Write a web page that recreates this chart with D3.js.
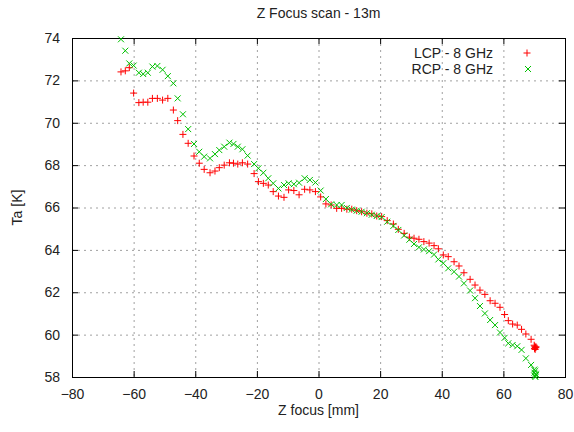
<!DOCTYPE html>
<html>
<head>
<meta charset="UTF-8">
<style>
body { margin: 0; background: #fff; }
text { font-family: "Liberation Sans", Arial, sans-serif; font-size: 14px; fill: #222; }
</style>
</head>
<body>
<svg id="chart"></svg>
<script src="https://d3js.org/d3.v7.min.js"></script>
<script>

// z focus positions (mm), shared by both polarisations
let zPos = [-64.1, -62.7, -61.4, -60.0, -58.3, -56.9, -55.4, -53.9, -52.3, -50.6,
  -48.9, -47.1, -45.7, -44.0, -42.3, -40.4, -38.7, -37.1, -35.2, -33.6,
  -32.2, -30.6, -28.9, -27.6, -26.2, -24.7, -23.0, -20.9, -19.5, -17.9,
  -16.3, -14.7, -13.0, -11.2, -9.7, -8.0, -6.3, -4.5, -2.8, -1.0,
  0.7, 2.4, 4.1, 5.9, 7.5, 9.2, 10.8, 12.4, 14.0, 15.7,
  17.3, 18.9, 20.5, 22.3, 24.3, 25.9, 27.8, 29.5, 31.0, 32.6,
  34.2, 35.9, 37.5, 38.9, 40.5, 42.1, 44.0, 45.6, 47.2, 49.2,
  50.8, 52.4, 54.0, 55.7, 57.3, 58.9, 60.4, 61.6, 63.0, 64.5,
  65.9, 67.3, 69.0, 70.0, 70.1, 70.2, 70.3, 70.4, 70.5, 70.6];

let lcp = [72.4, 72.45, 72.6, 71.4, 70.95, 70.97, 70.97, 71.15, 71.15, 71.07,
  71.15, 70.6, 70.1, 69.45, 69.03, 68.43, 68.09, 67.8, 67.64, 67.72,
  67.88, 68.0, 68.11, 68.09, 68.05, 68.11, 68.05, 67.6, 67.22, 67.14,
  67.06, 66.75, 66.54, 66.48, 66.83, 66.8, 66.6, 66.86, 66.83, 66.75,
  66.5, 66.17, 66.12, 65.96, 65.96, 65.92, 65.92, 65.85, 65.8, 65.73,
  65.7, 65.6, 65.57, 65.38, 65.22, 64.97, 64.78, 64.6, 64.55, 64.5,
  64.39, 64.32, 64.2, 64.05, 63.76, 63.68, 63.44, 63.24, 62.92, 62.61,
  62.34, 62.1, 61.9, 61.6, 61.48, 61.29, 60.95, 60.66, 60.5, 60.45,
  60.25, 60.03, 59.78, 59.5, 59.35, 59.45, 59.3, 59.4, 59.38, 59.42];

let rcp = [73.94, 73.4, 72.8, 72.7, 72.36, 72.3, 72.36, 72.65, 72.68, 72.5,
  72.2, 71.86, 71.15, 70.4, 69.7, 69.0, 68.63, 68.4, 68.32, 68.52,
  68.71, 68.87, 69.06, 69.0, 68.87, 68.75, 68.45, 68.05, 67.85, 67.64,
  67.38, 67.14, 66.9, 67.06, 67.14, 67.1, 67.17, 67.38, 67.3, 67.18,
  66.8, 66.4, 66.15, 66.12, 66.12, 65.98, 65.9, 65.85, 65.8, 65.73,
  65.66, 65.6, 65.55, 65.33, 65.13, 64.94, 64.68, 64.48, 64.28, 64.12,
  64.02, 63.94, 63.78, 63.55, 63.37, 63.13, 62.97, 62.74, 62.42, 62.08,
  61.72, 61.35, 61.0, 60.69, 60.45, 60.1, 59.85, 59.59, 59.51, 59.45,
  59.28, 58.88, 58.57, 58.35, 58.2, 58.05, 58.3, 58.0, 58.15, 58.1];

let xTicks = [-80, -60, -40, -20, 0, 20, 40, 60, 80];
let yTicks = [58, 60, 62, 64, 66, 68, 70, 72, 74];
let seriesNames = ["LCP - 8 GHz", "RCP - 8 GHz"];

let width = 574, height = 432;
let margin = {top: 38, right: 9, bottom: 55, left: 72};

let svg = d3.select("#chart")
    .attr("width", width)
    .attr("height", height);

let x = d3.scaleLinear().domain([-80, 80]).range([margin.left, width - margin.right]);
let y = d3.scaleLinear().domain([58, 74]).range([height - margin.bottom, margin.top]);

let plus = "M-3.5,0H3.5M0,-3.5V3.5";
let cross = "M-3,-3L3,3M-3,3L3,-3";

// grid (dotted)
let grid = svg.append("g").attr("stroke", "#a0a0a0").attr("stroke-dasharray", "2,4");
grid.selectAll(".vg")
    .data(xTicks.slice(1, -1))
    .enter().append("line")
    .attr("x1", d => x(d) + 0.5).attr("x2", d => x(d) + 0.5)
    .attr("y1", y(74)).attr("y2", y(58));
grid.selectAll(".hg")
    .data(yTicks.slice(1, -1))
    .enter().append("line")
    .attr("y1", d => y(d) + 0.5).attr("y2", d => y(d) + 0.5)
    .attr("x1", x(-80)).attr("x2", x(80));

// axes, ticks inward and mirrored
let tl = 6;
let axB = svg.append("g").attr("transform", `translate(0,${y(58)})`)
    .call(d3.axisBottom(x).tickValues(xTicks).tickSizeInner(-tl).tickSizeOuter(0).tickPadding(12));
let axT = svg.append("g").attr("transform", `translate(0,${y(74)})`)
    .call(d3.axisTop(x).tickValues(xTicks).tickSizeInner(-tl).tickSizeOuter(0).tickFormat(""));
let axL = svg.append("g").attr("transform", `translate(${x(-80)},0)`)
    .call(d3.axisLeft(y).tickValues(yTicks).tickSizeInner(-tl).tickSizeOuter(0).tickPadding(12));
let axR = svg.append("g").attr("transform", `translate(${x(80)},0)`)
    .call(d3.axisRight(y).tickValues(yTicks).tickSizeInner(-tl).tickSizeOuter(0).tickFormat(""));

svg.selectAll(".domain").remove();
svg.selectAll(".tick line").attr("stroke", "#000");
svg.selectAll(".tick text").attr("font-size", 14).attr("font-family", null).attr("fill", "#222");

svg.append("rect")
    .attr("x", x(-80) + 0.5).attr("y", y(74) + 0.5)
    .attr("width", x(80) - x(-80)).attr("height", y(58) - y(74))
    .attr("fill", "none").attr("stroke", "#000");

// data points
svg.append("g").selectAll("path")
    .data(zPos.map((z, i) => [z, lcp[i]]))
    .enter().append("path")
    .attr("d", plus)
    .attr("transform", d => `translate(${x(d[0])},${y(d[1])})`)
    .attr("stroke", "#ff0000").attr("fill", "none");

svg.append("g").selectAll("path")
    .data(zPos.map((z, i) => [z, rcp[i]]))
    .enter().append("path")
    .attr("d", cross)
    .attr("transform", d => `translate(${x(d[0])},${y(d[1])})`)
    .attr("stroke", "#00c000").attr("fill", "none");

// legend
let legend = svg.append("g");
legend.selectAll("text")
    .data(seriesNames)
    .enter().append("text")
    .attr("x", 493)
    .attr("y", (d, i) => 58 + i * 16)
    .attr("text-anchor", "end")
    .text(d => d);
legend.append("path").attr("d", plus).attr("transform", "translate(527,53)")
    .attr("stroke", "#ff0000").attr("fill", "none");
legend.append("path").attr("d", cross).attr("transform", "translate(528,69)")
    .attr("stroke", "#00c000").attr("fill", "none");

// titles
svg.append("text")
    .attr("x", (x(-80) + x(80)) / 2).attr("y", 18)
    .attr("text-anchor", "middle")
    .text("Z Focus scan - 13m");
svg.append("text")
    .attr("x", (x(-80) + x(80)) / 2).attr("y", 415)
    .attr("text-anchor", "middle")
    .text("Z focus [mm]");
svg.append("text")
    .attr("transform", `translate(22,${(y(58) + y(74)) / 2}) rotate(-90)`)
    .attr("text-anchor", "middle")
    .text("Ta [K]");

</script>
</body>
</html>
